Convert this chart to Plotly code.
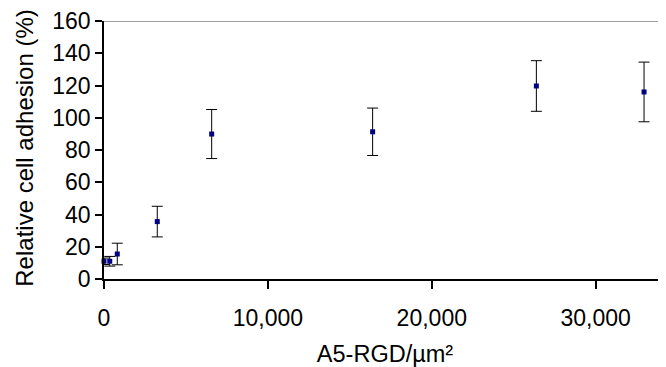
import plotly.graph_objects as go

# Data
rgd_density = [0, 350, 810, 3250, 6570, 16390, 26380, 32950]
adhesion = [11, 11, 15.5, 35.6, 89.9, 91.3, 119.7, 116]
adhesion_err = [2, 3, 6.7, 9.5, 15.2, 14.7, 15.7, 18.5]

x_ticks = [0, 10000, 20000, 30000]
y_ticks = [0, 20, 40, 60, 80, 100, 120, 140, 160]

FONT = "Liberation Sans, Arial, sans-serif"

fig = go.Figure()
fig.add_trace(go.Scatter(
    x=rgd_density, y=adhesion, mode="markers",
    marker=dict(symbol="square", size=5, color="#000080"),
    error_y=dict(type="data", array=adhesion_err, visible=True,
                 color="#000000", thickness=1, width=5.5),
    cliponaxis=False, showlegend=False,
))

fig.add_shape(type="line", xref="paper", yref="y", x0=0, x1=1, y0=160, y1=160,
              line=dict(color="#808080", width=1.5), layer="below")

# y-axis title as a rotated annotation for precise placement
L, PW = 96, 562
fig.add_annotation(text="Relative cell adhesion (%)", textangle=-90,
                   xref="paper", yref="paper", x=(17 - L) / PW, y=0.505,
                   xanchor="center", yanchor="middle", showarrow=False,
                   borderpad=0,
                   font=dict(family=FONT, size=24, color="#000000"))

# page body has an 8px margin, so the figure is sized to fill the rest
fig.update_layout(
    width=658, height=359,
    margin=dict(l=L, r=0, t=13, b=88, autoexpand=False),
    paper_bgcolor="white", plot_bgcolor="white",
    font=dict(family=FONT, size=23, color="#000000"),
    xaxis=dict(
        range=[0, 34290], tickvals=x_ticks, tickformat=",d", automargin=False,
        showline=True, linecolor="#000000", linewidth=1.5,
        ticks="outside", ticklen=8, tickcolor="#000000", tickwidth=1.5,
        showgrid=False, zeroline=False, ticklabelstandoff=10,
        tickfont=dict(family=FONT, size=23, color="#000000"),
        title=dict(text="A5-RGD/µm²", font=dict(family=FONT, size=23.5, color="#000000"),
                   standoff=15),
    ),
    yaxis=dict(
        range=[0, 160], tickvals=y_ticks, automargin=False,
        showline=True, linecolor="#000000", linewidth=1.5,
        ticks="outside", ticklen=7, tickcolor="#000000", tickwidth=1.5,
        showgrid=False, zeroline=False, ticksuffix="\u00a0\u00a0\u2009",
        tickfont=dict(family=FONT, size=23, color="#000000"),
    ),
)

fig.write_html("out.html")
